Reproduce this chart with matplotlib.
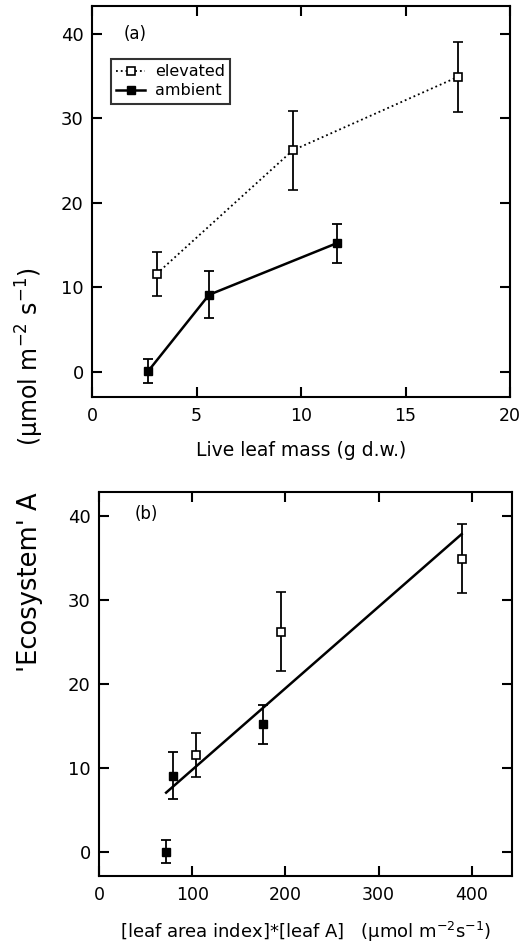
import matplotlib
matplotlib.use("Agg")
import matplotlib.pyplot as plt
from matplotlib.lines import Line2D

plt.rcParams['font.family'] = ['DejaVu Sans']
plt.rcParams['mathtext.default'] = 'regular'

# Panel (a): Live leaf mass vs ecosystem A
mass_elev = [3.1, 9.6, 17.5]
A_elev = [11.6, 26.2, 34.9]
err_elev = [2.6, 4.7, 4.1]
mass_amb = [2.7, 5.6, 11.7]
A_amb = [0.1, 9.1, 15.2]
err_amb = [1.4, 2.8, 2.3]

# Panel (b): [LAI]*[leaf A] vs ecosystem A
lai_elev = [103.8, 195.7, 389.0]
lai_amb = [72.3, 79.4, 176.0]
fit_x = [72.0, 389.0]
fit_y = [7.1, 37.8]

xticks_a = [0, 5, 10, 15, 20]
xticks_b = [0, 100, 200, 300, 400]
yticks = [0, 10, 20, 30, 40]

W, H = 532, 947
fig = plt.figure(figsize=(W / 100, H / 100), dpi=100)

def ax_rect(l, r, t, b):
    return [l / W, 1 - b / H, (r - l) / W, (b - t) / H]

ax1 = fig.add_axes(ax_rect(92, 510, 6, 397))
ax2 = fig.add_axes(ax_rect(99, 512, 492, 876))

def style(ax):
    for s in ax.spines.values():
        s.set_linewidth(1.5)
    ax.tick_params(direction='in', length=7, width=1.5, top=True, right=True,
                   pad=6)
    ax.tick_params(axis='y', labelsize=13)
    ax.tick_params(axis='x', labelsize=12.5, pad=7)

ms = 5.5
# panel a
ax1.errorbar(mass_elev, A_elev, yerr=err_elev, color='black',
             linestyle=':', linewidth=1.3, marker='s', markersize=ms,
             markerfacecolor='white', markeredgecolor='black', markeredgewidth=1.2,
             ecolor='black', elinewidth=1.3, capsize=3.5, capthick=1.3)
ax1.errorbar(mass_amb, A_amb, yerr=err_amb, color='black', linestyle='-',
             linewidth=1.8, marker='s', markersize=ms, markerfacecolor='black',
             ecolor='black', elinewidth=1.3, capsize=3.5, capthick=1.3)
ax1.set_xlim(0, 20)
ax1.set_ylim(-3, 43.3)
ax1.set_xticks(xticks_a)
ax1.set_yticks(yticks)
style(ax1)
ax1.text(1.5, 40, '(a)', fontsize=12, ha='left', va='center')
handles = [
    Line2D([], [], color='black', linestyle=':', linewidth=1.3, marker='s',
           markersize=ms, markerfacecolor='white', markeredgecolor='black',
           markeredgewidth=1.2, label='elevated'),
    Line2D([], [], color='black', linestyle='-', linewidth=1.8, marker='s',
           markersize=ms, markerfacecolor='black', label='ambient'),
]
leg = ax1.legend(handles=handles, loc='upper left', bbox_to_anchor=(0.045, 0.865),
                 fontsize=11.5, frameon=True, fancybox=False, handlelength=1.8,
                 borderpad=0.35, labelspacing=0.25, handletextpad=0.6,
                 borderaxespad=0)
leg.get_frame().set_edgecolor('black')
leg.get_frame().set_linewidth(1.5)
ax1.set_xlabel('Live leaf mass (g d.w.)', fontsize=13.5, labelpad=12)

# panel b
ax2.plot(fit_x, fit_y, color='black', linewidth=1.8)
ax2.errorbar(lai_elev, A_elev, yerr=err_elev, color='black',
             linestyle='none', marker='s', markersize=ms, markerfacecolor='white',
             markeredgecolor='black', markeredgewidth=1.2, ecolor='black',
             elinewidth=1.3, capsize=3.5, capthick=1.3)
ax2.errorbar(lai_amb, A_amb, yerr=err_amb, color='black', linestyle='none',
             marker='s', markersize=ms, markerfacecolor='black', ecolor='black',
             elinewidth=1.3, capsize=3.5, capthick=1.3)
ax2.set_xlim(0, 443)
ax2.set_ylim(-2.8, 42.8)
ax2.set_xticks(xticks_b)
ax2.set_yticks(yticks)
style(ax2)
ax2.text(38.5, 40.2, '(b)', fontsize=12, ha='left', va='center')
ax2.set_xlabel(r'[leaf area index]*[leaf A]   (µmol m$^{-2}$s$^{-1}$)', fontsize=13,
               labelpad=12)

fig.text(30 / W, 1 - 357 / H, r'(µmol m$^{-2}$ s$^{-1}$)', rotation=90, fontsize=17,
         ha='center', va='center')
fig.text(30 / W, 1 - 582 / H, "'Ecosystem' A", rotation=90, fontsize=18.5,
         ha='center', va='center')

fig.savefig('out.png', dpi=100)
